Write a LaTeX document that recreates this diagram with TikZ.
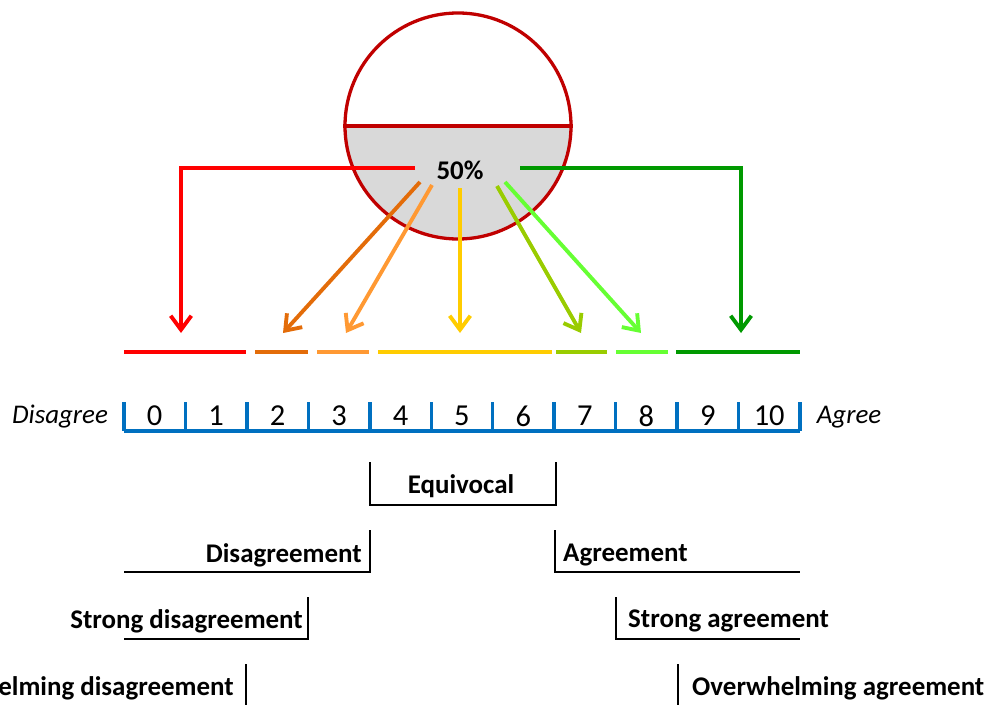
\documentclass[tikz,border=0pt]{standalone}
\usepackage{fontspec}
\setmainfont{Carlito}
\usetikzlibrary{arrows.meta}

\definecolor{rimred}{RGB}{192,0,0}
\definecolor{fillgray}{RGB}{217,217,217}
\definecolor{scaleblue}{RGB}{0,112,192}
\definecolor{cred}{RGB}{255,0,0}
\definecolor{corange}{RGB}{227,108,9}
\definecolor{clightorange}{RGB}{255,153,51}
\definecolor{cyellow}{RGB}{255,204,0}
\definecolor{colive}{RGB}{153,204,0}
\definecolor{clime}{RGB}{102,255,51}
\definecolor{cgreen}{RGB}{0,153,0}

\begin{document}
\begin{tikzpicture}[x=0.03cm,y=-0.03cm,
    bar/.style={line width=4pt},
    pointer/.style={line width=3.3pt,-{Straight Barb[length=4.2mm,width=6.2mm]}},
    bracket/.style={line width=1.4pt},
    catname/.style={font=\fontsize{23}{27}\selectfont\bfseries,inner sep=0pt},
    digit/.style={font=\fontsize{26}{30}\selectfont,inner sep=0pt},
    endword/.style={font=\fontsize{23}{27}\selectfont\itshape,inner sep=0pt}]
    \useasboundingbox (0,0) rectangle (993,704);

    % Draw the half filled circle
    \fill[fillgray] (345,126) arc[start angle=180,end angle=360,radius=3.39cm];
    \node[circle,draw=rimred,line width=2.8pt,minimum size=6.78cm,inner sep=0pt] (jar) at (458,126) {};
    \draw[rimred,line width=3pt] (jar.west) -- (jar.east);
    \node[catname] (level) at (460,170) {50\%};

    % Start and end points of the arrows
    \coordinate (s0) at (415,168);  \coordinate (t0) at (181,333);
    \coordinate (s1) at (420,182);  \coordinate (t1) at (283,333);
    \coordinate (s2) at (432,185);  \coordinate (t2) at (346,333);
    \coordinate (s3) at (460,188);  \coordinate (t3) at (460,333);
    \coordinate (s4) at (497,186);  \coordinate (t4) at (581,333);
    \coordinate (s5) at (505,182);  \coordinate (t5) at (641,333);
    \coordinate (s6) at (520,168);  \coordinate (t6) at (741,333);

    % Draw the arrows
    \draw[pointer,cred] (s0) -| (t0);
    \draw[pointer,corange] (s1) -- (t1);
    \draw[pointer,clightorange] (s2) -- (t2);
    \draw[pointer,cyellow] (s3) -- (t3);
    \draw[pointer,colive] (s4) -- (t4);
    \draw[pointer,clime] (s5) -- (t5);
    \draw[pointer,cgreen] (s6) -| (t6);

    % Draw the coloured bars
    \foreach \a/\b/\c in {124/246/cred, 255/308/corange, 317/369/clightorange,
        378/552/cyellow, 556/607/colive, 616/668/clime, 676/800/cgreen} {
        \draw[bar,\c] (\a,352) -- (\b,352);
    }

    % Draw the scale
    \draw[scaleblue,line width=3pt] (124,431) -- (800,431);
    \foreach \i in {0,...,11} {
        \draw[scaleblue,line width=3pt] (124+61.45*\i,402) -- (124+61.45*\i,431);
    }
    \foreach \i in {0,...,10} {
        \node[digit] (n\i) at (154.7+61.45*\i,416) {\i};
    }
    \node[endword] (disagree) at (60,417) {Disagree};
    \node[endword] (agree) at (849,417) {Agree};

    % Draw the brackets and their names
    \draw[bracket] (370,462) -- (370,505) -- (556,505) -- (556,462);
    \node[catname] (equivocal) at (461,486) {Equivocal};

    \draw[bracket] (124,572) -- (370,572) -- (370,530);
    \node[catname,anchor=east] (disagreement) at (362,555) {Disagreement};
    \draw[bracket] (555,530) -- (555,572) -- (800,572);
    \node[catname,anchor=west] (agreement) at (563,555) {Agreement};

    \draw[bracket] (124,639) -- (308,639) -- (308,597);
    \node[catname,anchor=east] (strongdis) at (303,621) {Strong disagreement};
    \draw[bracket] (616,597) -- (616,639) -- (800,639);
    \node[catname,anchor=west] (strongagr) at (628,621) {Strong agreement};

    \draw[bracket] (124,707) -- (246,707) -- (246,664);
    \node[catname,anchor=east] (overdis) at (234,688) {Overwhelming disagreement};
    \draw[bracket] (678,664) -- (678,707) -- (800,707);
    \node[catname,anchor=west] (overagr) at (692,688) {Overwhelming agreement};

\end{tikzpicture}
\end{document}
